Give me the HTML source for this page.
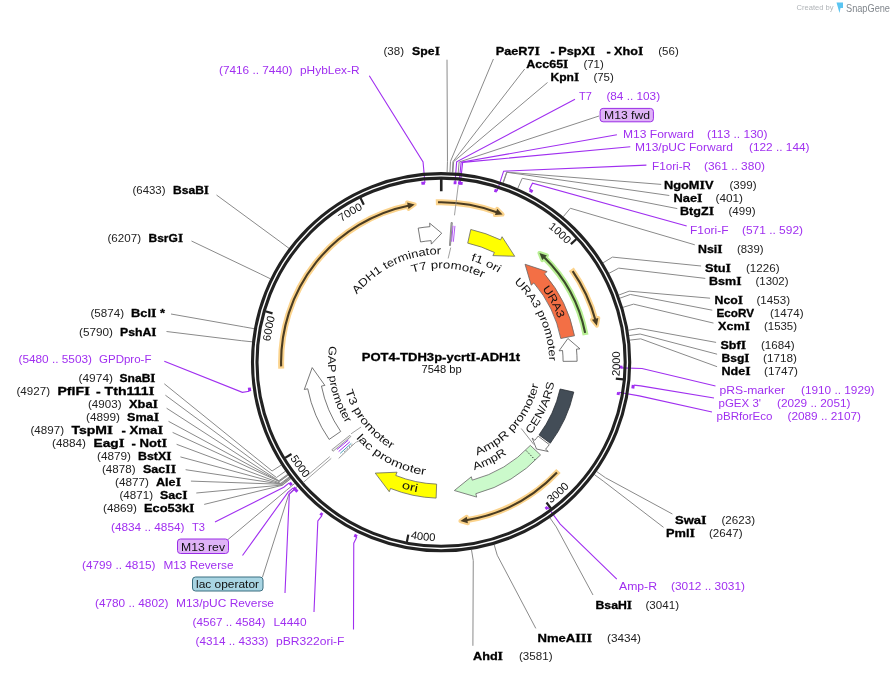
<!DOCTYPE html>
<html><head><meta charset="utf-8"><style>
html,body{margin:0;padding:0;background:#fff;}
svg{display:block;font-family:"Liberation Sans",sans-serif;will-change:transform;}
</style></head><body>
<svg width="894" height="674" viewBox="0 0 894 674">
<defs><path id="tp1" d="M548.09,227.53 A172,172 0 0 1 566.47,244.45"/><path id="tp2" d="M619.55,376.21 A179,179 0 0 0 619.76,351.23"/><path id="tp3" d="M550.85,503.61 A179,179 0 0 0 569.47,486.95"/><path id="tp4" d="M410.39,538.55 A179,179 0 0 0 435.24,541.1"/><path id="tp5" d="M290.01,458.18 A179,179 0 0 0 304.84,478.28"/><path id="tp6" d="M270.36,341.42 A172,172 0 0 1 275.17,316.9"/><path id="tp7" d="M341.55,221.94 A172,172 0 0 1 362.92,209"/><path id="tp8" d="M356.93,294.53 A108,108 0 0 1 441.1,254.2"/><path id="tp9" d="M412.21,272.75 A94,94 0 0 1 482.6,277.86"/><path id="tp10" d="M470.85,260.46 A106,106 0 0 1 498.21,272.9"/><path id="tp11" d="M513.92,282.45 A108,108 0 0 1 549.09,360.88"/><path id="tp12" d="M542.23,288.73 A125,125 0 0 1 558.18,318.42"/><path id="tp13" d="M530.6,434.42 A115,115 0 0 0 554.28,382.56"/><path id="tp14" d="M477.1,455.5 A100,100 0 0 0 538.54,384.7"/><path id="tp15" d="M474.33,470.2 A113,113 0 0 0 506.88,454.08"/><path id="tp16" d="M401.19,488.02 A132,132 0 0 0 417.27,492.03"/><path id="tp17" d="M356.12,438.18 A114,114 0 0 0 425.23,475.09"/><path id="tp18" d="M345.27,390.77 A100,100 0 0 0 391.4,448.98"/><path id="tp19" d="M329.28,345.89 A113,113 0 0 0 346.01,423.25"/></defs>
<path d="M369.3,75.8 L423.05,162.01 L424.94,182.93" fill="none" stroke="#a02ff0" stroke-width="1.1"/>
<path d="M447,59.7 L447.46,161.3 L447.11,172.3" fill="none" stroke="#8a8a8a" stroke-width="1.0"/>
<path d="M216.5,195 L280.2,241.74 L289,248.33" fill="none" stroke="#8a8a8a" stroke-width="1.0"/>
<path d="M191.5,241 L260.51,273.96 L270.39,278.79" fill="none" stroke="#8a8a8a" stroke-width="1.0"/>
<path d="M171,314 L243.25,326.75 L254.08,328.69" fill="none" stroke="#8a8a8a" stroke-width="1.0"/>
<path d="M166.5,331.5 L241.26,340.66 L252.19,341.84" fill="none" stroke="#8a8a8a" stroke-width="1.0"/>
<path d="M493.4,59 L450.47,161.42 L449.95,172.41" fill="none" stroke="#8a8a8a" stroke-width="1.0"/>
<path d="M524.7,69 L452.97,161.55 L452.32,172.53" fill="none" stroke="#8a8a8a" stroke-width="1.0"/>
<path d="M547.5,82.5 L453.64,161.59 L452.95,172.57" fill="none" stroke="#8a8a8a" stroke-width="1.0"/>
<path d="M575,99.3 L456.65,161.8 L455.02,182.74" fill="none" stroke="#a02ff0" stroke-width="1.1"/>
<path d="M599,116 L459.15,162.01 L458.16,172.97" fill="none" stroke="#8a8a8a" stroke-width="1.0"/>
<path d="M616.9,134.8 L461.14,162.2 L459.05,183.1" fill="none" stroke="#a02ff0" stroke-width="1.1"/>
<path d="M630.3,146.8 L462.64,162.36 L460.39,183.24" fill="none" stroke="#a02ff0" stroke-width="1.1"/>
<path d="M646.4,165.1 L503.63,171.17 L497.09,191.13" fill="none" stroke="#a02ff0" stroke-width="1.1"/>
<path d="M661.2,184.4 L506.64,172.19 L503.05,182.58" fill="none" stroke="#8a8a8a" stroke-width="1.0"/>
<path d="M669.3,195.5 L506.96,172.29 L503.35,182.69" fill="none" stroke="#8a8a8a" stroke-width="1.0"/>
<path d="M677.3,208.6 L522.21,178.29 L517.77,188.36" fill="none" stroke="#8a8a8a" stroke-width="1.0"/>
<path d="M686.7,226 L532.49,183.18 L529.3,189.41" fill="none" stroke="#a02ff0" stroke-width="1.1"/>
<path d="M694.8,244.8 L570.34,208.26 L563.27,216.69" fill="none" stroke="#8a8a8a" stroke-width="1.0"/>
<path d="M701.1,266 L612.43,257.1 L603.06,262.85" fill="none" stroke="#8a8a8a" stroke-width="1.0"/>
<path d="M705.3,278.4 L618.73,268.14 L609.01,273.29" fill="none" stroke="#8a8a8a" stroke-width="1.0"/>
<path d="M710.1,298.2 L629.12,291.15 L618.83,295.04" fill="none" stroke="#8a8a8a" stroke-width="1.0"/>
<path d="M712.3,310.2 L630.34,294.45 L619.98,298.16" fill="none" stroke="#8a8a8a" stroke-width="1.0"/>
<path d="M713.5,323.1 L633.53,304.14 L623,307.32" fill="none" stroke="#8a8a8a" stroke-width="1.0"/>
<path d="M716.1,342.4 L639.24,328.4 L628.39,330.25" fill="none" stroke="#8a8a8a" stroke-width="1.0"/>
<path d="M717.1,354.2 L640.11,334.02 L629.22,335.56" fill="none" stroke="#8a8a8a" stroke-width="1.0"/>
<path d="M717.1,366.7 L640.74,338.83 L629.81,340.11" fill="none" stroke="#8a8a8a" stroke-width="1.0"/>
<path d="M715.5,386 L642,368.56 L621.01,367.89" fill="none" stroke="#a02ff0" stroke-width="1.1"/>
<path d="M714,398 L640.7,385.9 L633.75,385.08" fill="none" stroke="#a02ff0" stroke-width="1.1"/>
<path d="M712,412 L639.27,395.84 L618.56,392.32" fill="none" stroke="#a02ff0" stroke-width="1.1"/>
<path d="M672.4,514 L605.54,477.79 L596.54,471.46" fill="none" stroke="#8a8a8a" stroke-width="1.0"/>
<path d="M663.5,527.3 L603.2,481.05 L594.33,474.54" fill="none" stroke="#8a8a8a" stroke-width="1.0"/>
<path d="M616.8,579.1 L560.22,524.1 L547.77,507.19" fill="none" stroke="#a02ff0" stroke-width="1.1"/>
<path d="M593,595 L556.27,526.93 L549.97,517.91" fill="none" stroke="#8a8a8a" stroke-width="1.0"/>
<path d="M535.8,628.4 L497.23,555.2 L494.16,544.64" fill="none" stroke="#8a8a8a" stroke-width="1.0"/>
<path d="M472.9,645.8 L473.25,560.61 L471.49,549.75" fill="none" stroke="#8a8a8a" stroke-width="1.0"/>
<path d="M164.3,361.2 L242.38,392.37 L249.3,391.32" fill="none" stroke="#a02ff0" stroke-width="1.1"/>
<path d="M164.3,383.8 L272.08,470.98 L281.33,465.03" fill="none" stroke="#8a8a8a" stroke-width="1.0"/>
<path d="M165.4,395.2 L276.47,477.51 L285.48,471.2" fill="none" stroke="#8a8a8a" stroke-width="1.0"/>
<path d="M166.6,408.2 L278.8,480.78 L287.68,474.29" fill="none" stroke="#8a8a8a" stroke-width="1.0"/>
<path d="M168.5,421.3 L279.2,481.32 L288.06,474.8" fill="none" stroke="#8a8a8a" stroke-width="1.0"/>
<path d="M172.6,432.4 L279.4,481.59 L288.25,475.05" fill="none" stroke="#8a8a8a" stroke-width="1.0"/>
<path d="M176.6,444.3 L280.7,483.33 L289.48,476.7" fill="none" stroke="#8a8a8a" stroke-width="1.0"/>
<path d="M180.4,456.9 L281.2,484 L289.95,477.33" fill="none" stroke="#8a8a8a" stroke-width="1.0"/>
<path d="M185.6,469.7 L281.31,484.13 L290.05,477.46" fill="none" stroke="#8a8a8a" stroke-width="1.0"/>
<path d="M190.9,481.1 L281.41,484.26 L290.15,477.58" fill="none" stroke="#8a8a8a" stroke-width="1.0"/>
<path d="M196.3,493 L282.02,485.06 L290.72,478.33" fill="none" stroke="#8a8a8a" stroke-width="1.0"/>
<path d="M204.2,504.4 L282.22,485.32 L290.92,478.58" fill="none" stroke="#8a8a8a" stroke-width="1.0"/>
<path d="M215,522 L283.77,487.3 L289.25,482.94" fill="none" stroke="#a02ff0" stroke-width="1.1"/>
<path d="M228,539.5 L286.3,490.42 L294.78,483.4" fill="none" stroke="#8a8a8a" stroke-width="1.0"/>
<path d="M242.5,555.5 L287.92,492.34 L293.25,487.81" fill="none" stroke="#a02ff0" stroke-width="1.1"/>
<path d="M262.5,577 L289.01,493.61 L297.33,486.42" fill="none" stroke="#8a8a8a" stroke-width="1.0"/>
<path d="M285,593 L289.33,493.99 L294.62,489.4" fill="none" stroke="#a02ff0" stroke-width="1.1"/>
<path d="M314,612 L317.84,520.97 L322.14,515.44" fill="none" stroke="#a02ff0" stroke-width="1.1"/>
<path d="M353.5,629.5 L353.76,543.23 L356.8,536.93" fill="none" stroke="#a02ff0" stroke-width="1.1"/>
<circle cx="441.1" cy="362.2" r="188.6" fill="none" stroke="#222" stroke-width="3.1"/>
<circle cx="441.1" cy="362.2" r="184.1" fill="none" stroke="#222" stroke-width="3.1"/>
<path d="M421.36,183.29 A180,180 0 0 1 424.94,182.93" fill="none" stroke="#a02ff0" stroke-width="3"/>
<path d="M453.68,182.64 A180,180 0 0 1 456.51,182.86" fill="none" stroke="#a02ff0" stroke-width="3"/>
<path d="M458.01,183 A180,180 0 0 1 460.54,183.25" fill="none" stroke="#a02ff0" stroke-width="3"/>
<path d="M459.35,183.13 A180,180 0 0 1 462.62,183.49" fill="none" stroke="#a02ff0" stroke-width="3"/>
<path d="M494.38,190.27 A180,180 0 0 1 497.09,191.13" fill="none" stroke="#a02ff0" stroke-width="3"/>
<path d="M529.65,190.15 A193.5,193.5 0 0 1 532.64,191.72" fill="none" stroke="#a02ff0" stroke-width="3"/>
<path d="M621.07,365.65 A180,180 0 0 1 620.99,368.49" fill="none" stroke="#a02ff0" stroke-width="3"/>
<path d="M633.25,385.02 A193.5,193.5 0 0 1 632.8,388.53" fill="none" stroke="#a02ff0" stroke-width="3"/>
<path d="M618.56,392.32 A180,180 0 0 1 618.09,394.98" fill="none" stroke="#a02ff0" stroke-width="3"/>
<path d="M547.77,507.19 A180,180 0 0 1 545.47,508.86" fill="none" stroke="#a02ff0" stroke-width="3"/>
<path d="M249.79,391.24 A193.5,193.5 0 0 1 249.27,387.58" fill="none" stroke="#a02ff0" stroke-width="3"/>
<path d="M291.67,485.13 A193.5,193.5 0 0 1 289.64,482.63" fill="none" stroke="#a02ff0" stroke-width="3"/>
<path d="M295.31,489.43 A193.5,193.5 0 0 1 293.63,487.48" fill="none" stroke="#a02ff0" stroke-width="3"/>
<path d="M297.34,491.72 A193.5,193.5 0 0 1 295,489.07" fill="none" stroke="#a02ff0" stroke-width="3"/>
<path d="M322.44,515.05 A193.5,193.5 0 0 1 320.29,513.36" fill="none" stroke="#a02ff0" stroke-width="3"/>
<path d="M357.02,536.48 A193.5,193.5 0 0 1 354.27,535.13" fill="none" stroke="#a02ff0" stroke-width="3"/>
<path d="M576.44,239.03 L570.89,244.07" fill="none" stroke="#222" stroke-width="2.2"/>
<path d="M623.29,379.39 L615.82,378.68" fill="none" stroke="#222" stroke-width="2.2"/>
<path d="M551.02,508.51 L546.51,502.52" fill="none" stroke="#222" stroke-width="2.2"/>
<path d="M406.88,541.97 L408.28,534.6" fill="none" stroke="#222" stroke-width="2.2"/>
<path d="M285.11,457.89 L291.5,453.97" fill="none" stroke="#222" stroke-width="2.2"/>
<path d="M265.34,311.24 L272.54,313.33" fill="none" stroke="#222" stroke-width="2.2"/>
<path d="M360.49,197.91 L363.79,204.65" fill="none" stroke="#222" stroke-width="2.2"/>
<path d="M441.25,177.2 L441.24,191.2" fill="none" stroke="#222" stroke-width="2.6"/>
<text fill="#111" font-size="11"><textPath href="#tp1" textLength="25" lengthAdjust="spacingAndGlyphs">1000</textPath></text>
<text fill="#111" font-size="11"><textPath href="#tp2" textLength="25" lengthAdjust="spacingAndGlyphs">2000</textPath></text>
<text fill="#111" font-size="11"><textPath href="#tp3" textLength="25" lengthAdjust="spacingAndGlyphs">3000</textPath></text>
<text fill="#111" font-size="11"><textPath href="#tp4" textLength="25" lengthAdjust="spacingAndGlyphs">4000</textPath></text>
<text fill="#111" font-size="11"><textPath href="#tp5" textLength="25" lengthAdjust="spacingAndGlyphs">5000</textPath></text>
<text fill="#111" font-size="11"><textPath href="#tp6" textLength="25" lengthAdjust="spacingAndGlyphs">6000</textPath></text>
<text fill="#111" font-size="11"><textPath href="#tp7" textLength="25" lengthAdjust="spacingAndGlyphs">7000</textPath></text>
<path d="M281.23,368.59 A160,160 0 0 1 409.18,205.42" fill="none" stroke="#fbd38c" stroke-width="6.0"/>
<path d="M407.13,202.47 L414.69,204.39 L408.5,208.93 Z" fill="#fbd38c" stroke="#fbd38c" stroke-width="4" stroke-linejoin="round"/>
<path d="M281.15,366.39 A160,160 0 0 1 409.18,205.42" fill="none" stroke="#4a3c22" stroke-width="2.1"/>
<path d="M407.13,202.47 L414.69,204.39 L408.5,208.93 Z" fill="#4a3c22"/>
<path d="M435.83,202.29 A160,160 0 0 1 497.38,212.42" fill="none" stroke="#fbd38c" stroke-width="6.0"/>
<path d="M497.2,208.84 L502.59,214.49 L494.93,215.04 Z" fill="#fbd38c" stroke="#fbd38c" stroke-width="4" stroke-linejoin="round"/>
<path d="M438.03,202.23 A160,160 0 0 1 497.38,212.42" fill="none" stroke="#4a3c22" stroke-width="2.1"/>
<path d="M497.2,208.84 L502.59,214.49 L494.93,215.04 Z" fill="#4a3c22"/>
<path d="M571.38,269.32 A160,160 0 0 1 595.5,320.23" fill="none" stroke="#fbd38c" stroke-width="6.0"/>
<path d="M598.3,317.99 L596.87,325.66 L591.95,319.78 Z" fill="#fbd38c" stroke="#fbd38c" stroke-width="4" stroke-linejoin="round"/>
<path d="M572.64,271.12 A160,160 0 0 1 595.5,320.23" fill="none" stroke="#4a3c22" stroke-width="2.1"/>
<path d="M598.3,317.99 L596.87,325.66 L591.95,319.78 Z" fill="#4a3c22"/>
<path d="M558.47,470.94 A160,160 0 0 1 465.95,520.26" fill="none" stroke="#fbd38c" stroke-width="6.0"/>
<path d="M467.87,523.29 L460.41,521.03 L466.79,516.78 Z" fill="#fbd38c" stroke="#fbd38c" stroke-width="4" stroke-linejoin="round"/>
<path d="M556.97,472.54 A160,160 0 0 1 465.95,520.26" fill="none" stroke="#4a3c22" stroke-width="2.1"/>
<path d="M467.87,523.29 L460.41,521.03 L466.79,516.78 Z" fill="#4a3c22"/>
<path d="M585.57,335.05 A147,147 0 0 0 543.64,256.86" fill="none" stroke="#b8ef94" stroke-width="6.0"/>
<path d="M546.87,255.42 L539.46,252.96 L542.23,260.11 Z" fill="#b8ef94" stroke="#b8ef94" stroke-width="4" stroke-linejoin="round"/>
<path d="M585.15,332.89 A147,147 0 0 0 543.64,256.86" fill="none" stroke="#3a4a2a" stroke-width="2.1"/>
<path d="M546.87,255.42 L539.46,252.96 L542.23,260.11 Z" fill="#3a4a2a"/>
<path d="M418.19,228.14 A136,136 0 0 1 429.92,226.66 L429.63,223.17 L441.71,233.2 L431.36,244.1 L431.07,240.61 A122,122 0 0 0 420.54,241.94 Z" fill="#fff" stroke="#555" stroke-width="0.8" stroke-linejoin="miter"/>
<path d="M470.77,229.48 A136,136 0 0 1 500.54,239.88 L502.07,236.73 L514.72,256.27 L492.89,255.62 L494.42,252.47 A122,122 0 0 0 467.71,243.14 Z" fill="#ffff00" stroke="#666" stroke-width="0.8" stroke-linejoin="miter"/>
<path d="M574.51,335.78 A136,136 0 0 0 544.49,273.84 L547.15,271.57 L525.05,264.25 L531.19,285.21 L533.85,282.94 A122,122 0 0 1 560.78,338.5 Z" fill="#f36f45" stroke="#666" stroke-width="0.8" stroke-linejoin="miter"/>
<path d="M577.1,361.25 A136,136 0 0 0 576.47,349.16 L579.96,348.83 L567.9,338.47 L559.05,350.84 L562.54,350.51 A122,122 0 0 1 563.1,361.35 Z" fill="#fff" stroke="#555" stroke-width="0.8" stroke-linejoin="miter"/>
<path d="M573.77,392.1 A136,136 0 0 1 550.28,443.29 L539.04,434.94 A122,122 0 0 0 560.12,389.02 Z" fill="#434d57" stroke="#2a2f35" stroke-width="0.8" stroke-linejoin="miter"/>
<path d="M540.56,454.95 A136,136 0 0 1 475.8,493.7 L476.69,497.08 L454.36,490.52 L471.34,476.78 L472.23,480.16 A122,122 0 0 0 530.33,445.4 Z" fill="#cbfacb" stroke="#666" stroke-width="0.8" stroke-linejoin="miter"/>
<path d="M549.28,444.61 A136,136 0 0 1 545.59,449.25 L548.28,451.5 L536.51,449.02 L532.14,438.05 L534.83,440.29 A122,122 0 0 0 538.15,436.13 Z" fill="#fff" stroke="#555" stroke-width="0.8" stroke-linejoin="miter"/>
<path d="M436.12,498.11 A136,136 0 0 1 390.56,488.46 L389.26,491.71 L375.24,473.12 L397.06,472.21 L395.76,475.46 A122,122 0 0 0 436.63,484.12 Z" fill="#ffff00" stroke="#666" stroke-width="0.8" stroke-linejoin="miter"/>
<path d="M329.15,439.43 A136,136 0 0 1 307.73,388.81 L304.3,389.49 L312.21,367.6 L324.89,385.39 L321.46,386.07 A122,122 0 0 0 340.68,431.48 Z" fill="#fff" stroke="#555" stroke-width="0.8" stroke-linejoin="miter"/>
<path d="M458.28,185.03 L454.47,215.31" stroke="#888" stroke-width="0.8" fill="none"/>
<path d="M450.72,247.6 L448.17,258.44" stroke="#888" stroke-width="0.8" fill="none"/>
<path d="M451.11,222.56 L449.47,245.5 L450.48,245.58 L452.33,222.65 Z" fill="#ccc" stroke="#666" stroke-width="0.7"/>
<path d="M451.65,241.66 L453.04,225.72" stroke="#a02ff0" stroke-width="0.8" fill="none"/>
<path d="M453.33,241.82 L454.94,225.9" stroke="#a02ff0" stroke-width="0.8" fill="none"/>
<path d="M331.84,449.73 L349.79,435.35 L350.82,436.62 L333.07,451.25 Z" fill="#eee" stroke="#777" stroke-width="0.7"/>
<path d="M348.41,439.98 L336.92,449.62" stroke="#a02ff0" stroke-width="1.0" fill="none"/>
<path d="M349.92,441.74 L338.62,451.6" stroke="#a02ff0" stroke-width="1.0" fill="none"/>
<path d="M351.32,443.32 L340.19,453.38" stroke="#4aa0b8" stroke-width="1.0" fill="none"/>
<path d="M352.32,444.41 L342.78,453.25" stroke="#333" stroke-width="0.9" fill="none" stroke-dasharray="1.2,2"/>
<path d="M355.81,442.29 L338.68,458.38" stroke="#777" stroke-width="0.7" fill="none"/>
<path d="M303.2,482.5 L331.25,458.37" stroke="#888" stroke-width="0.8" fill="none"/>
<path d="M306.87,476.04 L329.75,456.63" stroke="#888" stroke-width="0.8" fill="none"/>
<path d="M351.1,433.79 L361.05,427.02" stroke="#888" stroke-width="0.8" fill="none"/>
<path d="M356.24,442.17 L362.64,439.3" stroke="#888" stroke-width="0.8" fill="none"/>
<path d="M526.04,450.47 L535.06,459.83" stroke="#222" stroke-width="0.9" fill="none" stroke-dasharray="1.5,1.5"/>
<path d="M521.23,428.49 L533.83,444.53" fill="none" stroke="#777" stroke-width="0.8"/>
<text fill="#111" font-size="11"><textPath href="#tp8" textLength="96.51" lengthAdjust="spacingAndGlyphs">ADH1 terminator</textPath></text>
<text fill="#111" font-size="11"><textPath href="#tp9" textLength="72.35" lengthAdjust="spacingAndGlyphs">T7 promoter</textPath></text>
<text fill="#111" font-size="11"><textPath href="#tp10" textLength="30.16" lengthAdjust="spacingAndGlyphs">f1 ori</textPath></text>
<text fill="#111" font-size="11"><textPath href="#tp11" textLength="88.4" lengthAdjust="spacingAndGlyphs">URA3 promoter</textPath></text>
<text fill="#111" font-size="11"><textPath href="#tp12" textLength="33.82" lengthAdjust="spacingAndGlyphs">URA3</textPath></text>
<text fill="#111" font-size="11"><textPath href="#tp13" textLength="57.6" lengthAdjust="spacingAndGlyphs">CEN/ARS</textPath></text>
<text fill="#111" font-size="11"><textPath href="#tp14" textLength="97.56" lengthAdjust="spacingAndGlyphs">AmpR promoter</textPath></text>
<text fill="#111" font-size="11"><textPath href="#tp15" textLength="36.49" lengthAdjust="spacingAndGlyphs">AmpR</textPath></text>
<text fill="#111" font-size="11"><textPath href="#tp16" textLength="16.59" lengthAdjust="spacingAndGlyphs">ori</textPath></text>
<text fill="#111" font-size="11"><textPath href="#tp17" textLength="79.98" lengthAdjust="spacingAndGlyphs">lac promoter</textPath></text>
<text fill="#111" font-size="11"><textPath href="#tp18" textLength="76.1" lengthAdjust="spacingAndGlyphs">T3 promoter</textPath></text>
<text fill="#111" font-size="11"><textPath href="#tp19" textLength="80.86" lengthAdjust="spacingAndGlyphs">GAP promoter</textPath></text>
<text x="219" y="74" fill="#a02ff0" font-size="11" textLength="73.5" lengthAdjust="spacingAndGlyphs">(7416 .. 7440)</text>
<text x="300" y="74" fill="#a02ff0" font-size="11" textLength="59.5" lengthAdjust="spacingAndGlyphs">pHybLex-R</text>
<text x="383.5" y="55" fill="#222" font-size="11" textLength="20.6" lengthAdjust="spacingAndGlyphs">(38)</text>
<text x="412.1" y="55" fill="#000" font-size="11" font-weight="bold" stroke="#000" stroke-width="0.3" textLength="27.8" lengthAdjust="spacingAndGlyphs">Spe<tspan font-family="Liberation Serif" font-size="12">I</tspan></text>
<text x="132.5" y="194" fill="#222" font-size="11" textLength="33" lengthAdjust="spacingAndGlyphs">(6433)</text>
<text x="173" y="194" fill="#000" font-size="11" font-weight="bold" stroke="#000" stroke-width="0.3" textLength="36" lengthAdjust="spacingAndGlyphs">BsaB<tspan font-family="Liberation Serif" font-size="12">I</tspan></text>
<text x="107.5" y="242" fill="#222" font-size="11" textLength="33.5" lengthAdjust="spacingAndGlyphs">(6207)</text>
<text x="148.5" y="242" fill="#000" font-size="11" font-weight="bold" stroke="#000" stroke-width="0.3" textLength="34.5" lengthAdjust="spacingAndGlyphs">BsrG<tspan font-family="Liberation Serif" font-size="12">I</tspan></text>
<text x="90.5" y="317" fill="#222" font-size="11" textLength="33.5" lengthAdjust="spacingAndGlyphs">(5874)</text>
<text x="131" y="317" fill="#000" font-size="11" font-weight="bold" stroke="#000" stroke-width="0.3" textLength="34" lengthAdjust="spacingAndGlyphs">Bcl<tspan font-family="Liberation Serif" font-size="12">I</tspan> *</text>
<text x="79" y="335.5" fill="#222" font-size="11" textLength="34" lengthAdjust="spacingAndGlyphs">(5790)</text>
<text x="120" y="335.5" fill="#000" font-size="11" font-weight="bold" stroke="#000" stroke-width="0.3" textLength="36.5" lengthAdjust="spacingAndGlyphs">PshA<tspan font-family="Liberation Serif" font-size="12">I</tspan></text>
<text x="495.7" y="55" fill="#000" font-size="11" font-weight="bold" stroke="#000" stroke-width="0.3" textLength="44.3" lengthAdjust="spacingAndGlyphs">PaeR7<tspan font-family="Liberation Serif" font-size="12">I</tspan></text>
<text x="550.5" y="55" fill="#000" font-size="11" font-weight="bold" stroke="#000" stroke-width="0.3" textLength="44.7" lengthAdjust="spacingAndGlyphs">- PspX<tspan font-family="Liberation Serif" font-size="12">I</tspan></text>
<text x="606.4" y="55" fill="#000" font-size="11" font-weight="bold" stroke="#000" stroke-width="0.3" textLength="36.9" lengthAdjust="spacingAndGlyphs">- Xho<tspan font-family="Liberation Serif" font-size="12">I</tspan></text>
<text x="658.3" y="55" fill="#222" font-size="11" textLength="20.4" lengthAdjust="spacingAndGlyphs">(56)</text>
<text x="526.3" y="68" fill="#000" font-size="11" font-weight="bold" stroke="#000" stroke-width="0.3" textLength="42.1" lengthAdjust="spacingAndGlyphs">Acc65<tspan font-family="Liberation Serif" font-size="12">I</tspan></text>
<text x="583.4" y="68" fill="#222" font-size="11" textLength="20.3" lengthAdjust="spacingAndGlyphs">(71)</text>
<text x="550.5" y="81" fill="#000" font-size="11" font-weight="bold" stroke="#000" stroke-width="0.3" textLength="28.6" lengthAdjust="spacingAndGlyphs">Kpn<tspan font-family="Liberation Serif" font-size="12">I</tspan></text>
<text x="593.4" y="81" fill="#222" font-size="11" textLength="20.4" lengthAdjust="spacingAndGlyphs">(75)</text>
<text x="579.1" y="100" fill="#a02ff0" font-size="11" textLength="12.8" lengthAdjust="spacingAndGlyphs">T7</text>
<text x="606.4" y="100" fill="#a02ff0" font-size="11" textLength="53.7" lengthAdjust="spacingAndGlyphs">(84 .. 103)</text>
<text x="623" y="138" fill="#a02ff0" font-size="11" textLength="71" lengthAdjust="spacingAndGlyphs">M13 Forward</text>
<text x="707" y="138" fill="#a02ff0" font-size="11" textLength="60.5" lengthAdjust="spacingAndGlyphs">(113 .. 130)</text>
<text x="635" y="151" fill="#a02ff0" font-size="11" textLength="98" lengthAdjust="spacingAndGlyphs">M13/pUC Forward</text>
<text x="749" y="151" fill="#a02ff0" font-size="11" textLength="60.5" lengthAdjust="spacingAndGlyphs">(122 .. 144)</text>
<text x="652" y="170" fill="#a02ff0" font-size="11" textLength="39" lengthAdjust="spacingAndGlyphs">F1ori-R</text>
<text x="704" y="170" fill="#a02ff0" font-size="11" textLength="61" lengthAdjust="spacingAndGlyphs">(361 .. 380)</text>
<text x="664" y="189" fill="#000" font-size="11" font-weight="bold" stroke="#000" stroke-width="0.3" textLength="49.5" lengthAdjust="spacingAndGlyphs">NgoM<tspan font-family="Liberation Serif" font-size="12">I</tspan>V</text>
<text x="729.5" y="189" fill="#222" font-size="11" textLength="27" lengthAdjust="spacingAndGlyphs">(399)</text>
<text x="673.5" y="202" fill="#000" font-size="11" font-weight="bold" stroke="#000" stroke-width="0.3" textLength="29" lengthAdjust="spacingAndGlyphs">Nae<tspan font-family="Liberation Serif" font-size="12">I</tspan></text>
<text x="715.5" y="202" fill="#222" font-size="11" textLength="27.5" lengthAdjust="spacingAndGlyphs">(401)</text>
<text x="680" y="215" fill="#000" font-size="11" font-weight="bold" stroke="#000" stroke-width="0.3" textLength="34" lengthAdjust="spacingAndGlyphs">BtgZ<tspan font-family="Liberation Serif" font-size="12">I</tspan></text>
<text x="728.5" y="215" fill="#222" font-size="11" textLength="27" lengthAdjust="spacingAndGlyphs">(499)</text>
<text x="690" y="234" fill="#a02ff0" font-size="11" textLength="38.5" lengthAdjust="spacingAndGlyphs">F1ori-F</text>
<text x="742" y="234" fill="#a02ff0" font-size="11" textLength="61" lengthAdjust="spacingAndGlyphs">(571 .. 592)</text>
<text x="698" y="252.5" fill="#000" font-size="11" font-weight="bold" stroke="#000" stroke-width="0.3" textLength="24.5" lengthAdjust="spacingAndGlyphs">Nsi<tspan font-family="Liberation Serif" font-size="12">I</tspan></text>
<text x="737" y="252.5" fill="#222" font-size="11" textLength="26.5" lengthAdjust="spacingAndGlyphs">(839)</text>
<text x="705" y="272" fill="#000" font-size="11" font-weight="bold" stroke="#000" stroke-width="0.3" textLength="26" lengthAdjust="spacingAndGlyphs">Stu<tspan font-family="Liberation Serif" font-size="12">I</tspan></text>
<text x="746" y="272" fill="#222" font-size="11" textLength="33.5" lengthAdjust="spacingAndGlyphs">(1226)</text>
<text x="709" y="285" fill="#000" font-size="11" font-weight="bold" stroke="#000" stroke-width="0.3" textLength="32.5" lengthAdjust="spacingAndGlyphs">Bsm<tspan font-family="Liberation Serif" font-size="12">I</tspan></text>
<text x="755.5" y="285" fill="#222" font-size="11" textLength="33" lengthAdjust="spacingAndGlyphs">(1302)</text>
<text x="714.5" y="304" fill="#000" font-size="11" font-weight="bold" stroke="#000" stroke-width="0.3" textLength="28.5" lengthAdjust="spacingAndGlyphs">Nco<tspan font-family="Liberation Serif" font-size="12">I</tspan></text>
<text x="756.5" y="304" fill="#222" font-size="11" textLength="33.5" lengthAdjust="spacingAndGlyphs">(1453)</text>
<text x="716.5" y="317" fill="#000" font-size="11" font-weight="bold" stroke="#000" stroke-width="0.3" textLength="37.5" lengthAdjust="spacingAndGlyphs">EcoRV</text>
<text x="770" y="317" fill="#222" font-size="11" textLength="33.5" lengthAdjust="spacingAndGlyphs">(1474)</text>
<text x="718" y="330" fill="#000" font-size="11" font-weight="bold" stroke="#000" stroke-width="0.3" textLength="32" lengthAdjust="spacingAndGlyphs">Xcm<tspan font-family="Liberation Serif" font-size="12">I</tspan></text>
<text x="764" y="330" fill="#222" font-size="11" textLength="33" lengthAdjust="spacingAndGlyphs">(1535)</text>
<text x="720.5" y="349" fill="#000" font-size="11" font-weight="bold" stroke="#000" stroke-width="0.3" textLength="25.5" lengthAdjust="spacingAndGlyphs">Sbf<tspan font-family="Liberation Serif" font-size="12">I</tspan></text>
<text x="761" y="349" fill="#222" font-size="11" textLength="33.5" lengthAdjust="spacingAndGlyphs">(1684)</text>
<text x="721.5" y="362" fill="#000" font-size="11" font-weight="bold" stroke="#000" stroke-width="0.3" textLength="28" lengthAdjust="spacingAndGlyphs">Bsg<tspan font-family="Liberation Serif" font-size="12">I</tspan></text>
<text x="763" y="362" fill="#222" font-size="11" textLength="34" lengthAdjust="spacingAndGlyphs">(1718)</text>
<text x="721.5" y="375" fill="#000" font-size="11" font-weight="bold" stroke="#000" stroke-width="0.3" textLength="29" lengthAdjust="spacingAndGlyphs">Nde<tspan font-family="Liberation Serif" font-size="12">I</tspan></text>
<text x="764" y="375" fill="#222" font-size="11" textLength="34" lengthAdjust="spacingAndGlyphs">(1747)</text>
<text x="719.5" y="394" fill="#a02ff0" font-size="11" textLength="65.5" lengthAdjust="spacingAndGlyphs">pRS-marker</text>
<text x="801" y="394" fill="#a02ff0" font-size="11" textLength="73.5" lengthAdjust="spacingAndGlyphs">(1910 .. 1929)</text>
<text x="718.5" y="406.5" fill="#a02ff0" font-size="11" textLength="42.5" lengthAdjust="spacingAndGlyphs">pGEX 3'</text>
<text x="777" y="406.5" fill="#a02ff0" font-size="11" textLength="73.5" lengthAdjust="spacingAndGlyphs">(2029 .. 2051)</text>
<text x="716.5" y="420" fill="#a02ff0" font-size="11" textLength="56" lengthAdjust="spacingAndGlyphs">pBRforEco</text>
<text x="787.5" y="420" fill="#a02ff0" font-size="11" textLength="73.5" lengthAdjust="spacingAndGlyphs">(2089 .. 2107)</text>
<text x="675" y="524" fill="#000" font-size="11" font-weight="bold" stroke="#000" stroke-width="0.3" textLength="31.5" lengthAdjust="spacingAndGlyphs">Swa<tspan font-family="Liberation Serif" font-size="12">I</tspan></text>
<text x="721.5" y="524" fill="#222" font-size="11" textLength="33.5" lengthAdjust="spacingAndGlyphs">(2623)</text>
<text x="666" y="537" fill="#000" font-size="11" font-weight="bold" stroke="#000" stroke-width="0.3" textLength="29" lengthAdjust="spacingAndGlyphs">Pml<tspan font-family="Liberation Serif" font-size="12">I</tspan></text>
<text x="709" y="537" fill="#222" font-size="11" textLength="33.5" lengthAdjust="spacingAndGlyphs">(2647)</text>
<text x="619" y="590" fill="#a02ff0" font-size="11" textLength="38" lengthAdjust="spacingAndGlyphs">Amp-R</text>
<text x="671" y="590" fill="#a02ff0" font-size="11" textLength="74" lengthAdjust="spacingAndGlyphs">(3012 .. 3031)</text>
<text x="595.5" y="609" fill="#000" font-size="11" font-weight="bold" stroke="#000" stroke-width="0.3" textLength="36.5" lengthAdjust="spacingAndGlyphs">BsaH<tspan font-family="Liberation Serif" font-size="12">I</tspan></text>
<text x="645.5" y="609" fill="#222" font-size="11" textLength="33.5" lengthAdjust="spacingAndGlyphs">(3041)</text>
<text x="537.5" y="642" fill="#000" font-size="11" font-weight="bold" stroke="#000" stroke-width="0.3" textLength="54.5" lengthAdjust="spacingAndGlyphs">NmeA<tspan font-family="Liberation Serif" font-size="12">I</tspan><tspan font-family="Liberation Serif" font-size="12">I</tspan><tspan font-family="Liberation Serif" font-size="12">I</tspan></text>
<text x="607" y="642" fill="#222" font-size="11" textLength="34" lengthAdjust="spacingAndGlyphs">(3434)</text>
<text x="473" y="660" fill="#000" font-size="11" font-weight="bold" stroke="#000" stroke-width="0.3" textLength="30" lengthAdjust="spacingAndGlyphs">Ahd<tspan font-family="Liberation Serif" font-size="12">I</tspan></text>
<text x="519" y="660" fill="#222" font-size="11" textLength="33.5" lengthAdjust="spacingAndGlyphs">(3581)</text>
<text x="18.5" y="363" fill="#a02ff0" font-size="11" textLength="73.5" lengthAdjust="spacingAndGlyphs">(5480 .. 5503)</text>
<text x="99" y="363" fill="#a02ff0" font-size="11" textLength="52.5" lengthAdjust="spacingAndGlyphs">GPDpro-F</text>
<text x="78.5" y="382" fill="#222" font-size="11" textLength="34.5" lengthAdjust="spacingAndGlyphs">(4974)</text>
<text x="119.5" y="382" fill="#000" font-size="11" font-weight="bold" stroke="#000" stroke-width="0.3" textLength="36" lengthAdjust="spacingAndGlyphs">SnaB<tspan font-family="Liberation Serif" font-size="12">I</tspan></text>
<text x="16.5" y="395" fill="#222" font-size="11" textLength="33.5" lengthAdjust="spacingAndGlyphs">(4927)</text>
<text x="57.5" y="395" fill="#000" font-size="11" font-weight="bold" stroke="#000" stroke-width="0.3" textLength="32.5" lengthAdjust="spacingAndGlyphs">PflF<tspan font-family="Liberation Serif" font-size="12">I</tspan></text>
<text x="96" y="395" fill="#000" font-size="11" font-weight="bold" stroke="#000" stroke-width="0.3" textLength="58.5" lengthAdjust="spacingAndGlyphs">- Tth111<tspan font-family="Liberation Serif" font-size="12">I</tspan></text>
<text x="88" y="408" fill="#222" font-size="11" textLength="33.5" lengthAdjust="spacingAndGlyphs">(4903)</text>
<text x="129" y="408" fill="#000" font-size="11" font-weight="bold" stroke="#000" stroke-width="0.3" textLength="29" lengthAdjust="spacingAndGlyphs">Xba<tspan font-family="Liberation Serif" font-size="12">I</tspan></text>
<text x="86" y="421" fill="#222" font-size="11" textLength="34" lengthAdjust="spacingAndGlyphs">(4899)</text>
<text x="127" y="421" fill="#000" font-size="11" font-weight="bold" stroke="#000" stroke-width="0.3" textLength="32" lengthAdjust="spacingAndGlyphs">Sma<tspan font-family="Liberation Serif" font-size="12">I</tspan></text>
<text x="30.5" y="434" fill="#222" font-size="11" textLength="33.5" lengthAdjust="spacingAndGlyphs">(4897)</text>
<text x="71.5" y="434" fill="#000" font-size="11" font-weight="bold" stroke="#000" stroke-width="0.3" textLength="41.5" lengthAdjust="spacingAndGlyphs">TspM<tspan font-family="Liberation Serif" font-size="12">I</tspan></text>
<text x="121.5" y="434" fill="#000" font-size="11" font-weight="bold" stroke="#000" stroke-width="0.3" textLength="41.5" lengthAdjust="spacingAndGlyphs">- Xma<tspan font-family="Liberation Serif" font-size="12">I</tspan></text>
<text x="52" y="447" fill="#222" font-size="11" textLength="34" lengthAdjust="spacingAndGlyphs">(4884)</text>
<text x="93.5" y="447" fill="#000" font-size="11" font-weight="bold" stroke="#000" stroke-width="0.3" textLength="31" lengthAdjust="spacingAndGlyphs">Eag<tspan font-family="Liberation Serif" font-size="12">I</tspan></text>
<text x="131.5" y="447" fill="#000" font-size="11" font-weight="bold" stroke="#000" stroke-width="0.3" textLength="35.5" lengthAdjust="spacingAndGlyphs">- Not<tspan font-family="Liberation Serif" font-size="12">I</tspan></text>
<text x="97" y="460" fill="#222" font-size="11" textLength="34" lengthAdjust="spacingAndGlyphs">(4879)</text>
<text x="138" y="460" fill="#000" font-size="11" font-weight="bold" stroke="#000" stroke-width="0.3" textLength="33.5" lengthAdjust="spacingAndGlyphs">BstX<tspan font-family="Liberation Serif" font-size="12">I</tspan></text>
<text x="102" y="473" fill="#222" font-size="11" textLength="33.5" lengthAdjust="spacingAndGlyphs">(4878)</text>
<text x="143" y="473" fill="#000" font-size="11" font-weight="bold" stroke="#000" stroke-width="0.3" textLength="33" lengthAdjust="spacingAndGlyphs">Sac<tspan font-family="Liberation Serif" font-size="12">I</tspan><tspan font-family="Liberation Serif" font-size="12">I</tspan></text>
<text x="115" y="486" fill="#222" font-size="11" textLength="34" lengthAdjust="spacingAndGlyphs">(4877)</text>
<text x="156" y="486" fill="#000" font-size="11" font-weight="bold" stroke="#000" stroke-width="0.3" textLength="25" lengthAdjust="spacingAndGlyphs">Ale<tspan font-family="Liberation Serif" font-size="12">I</tspan></text>
<text x="119.5" y="499" fill="#222" font-size="11" textLength="33.5" lengthAdjust="spacingAndGlyphs">(4871)</text>
<text x="160" y="499" fill="#000" font-size="11" font-weight="bold" stroke="#000" stroke-width="0.3" textLength="27.5" lengthAdjust="spacingAndGlyphs">Sac<tspan font-family="Liberation Serif" font-size="12">I</tspan></text>
<text x="103" y="512" fill="#222" font-size="11" textLength="34" lengthAdjust="spacingAndGlyphs">(4869)</text>
<text x="144" y="512" fill="#000" font-size="11" font-weight="bold" stroke="#000" stroke-width="0.3" textLength="50.5" lengthAdjust="spacingAndGlyphs">Eco53k<tspan font-family="Liberation Serif" font-size="12">I</tspan></text>
<text x="111" y="531" fill="#a02ff0" font-size="11" textLength="73.5" lengthAdjust="spacingAndGlyphs">(4834 .. 4854)</text>
<text x="192" y="531" fill="#a02ff0" font-size="11" textLength="13" lengthAdjust="spacingAndGlyphs">T3</text>
<text x="82" y="569" fill="#a02ff0" font-size="11" textLength="73.5" lengthAdjust="spacingAndGlyphs">(4799 .. 4815)</text>
<text x="163.5" y="569" fill="#a02ff0" font-size="11" textLength="70" lengthAdjust="spacingAndGlyphs">M13 Reverse</text>
<text x="95" y="607" fill="#a02ff0" font-size="11" textLength="73.5" lengthAdjust="spacingAndGlyphs">(4780 .. 4802)</text>
<text x="176" y="607" fill="#a02ff0" font-size="11" textLength="98" lengthAdjust="spacingAndGlyphs">M13/pUC Reverse</text>
<text x="192.5" y="626" fill="#a02ff0" font-size="11" textLength="73" lengthAdjust="spacingAndGlyphs">(4567 .. 4584)</text>
<text x="273.5" y="626" fill="#a02ff0" font-size="11" textLength="33" lengthAdjust="spacingAndGlyphs">L4440</text>
<text x="195.5" y="645" fill="#a02ff0" font-size="11" textLength="73" lengthAdjust="spacingAndGlyphs">(4314 .. 4333)</text>
<text x="276" y="645" fill="#a02ff0" font-size="11" textLength="68.5" lengthAdjust="spacingAndGlyphs">pBR322ori-F</text>
<rect x="600.1" y="108.4" width="53.3" height="13.4" rx="3" fill="#dfb3f7" stroke="#9a2de6" stroke-width="1"/>
<text x="604" y="119" fill="#111" font-size="11" textLength="46" lengthAdjust="spacingAndGlyphs">M13 fwd</text>
<rect x="177.5" y="539" width="51" height="14.5" rx="3" fill="#dfb3f7" stroke="#9a2de6" stroke-width="1"/>
<text x="181" y="550.5" fill="#111" font-size="11" textLength="44" lengthAdjust="spacingAndGlyphs">M13 rev</text>
<rect x="192.5" y="577" width="70.5" height="14" rx="3" fill="#a9d5e3" stroke="#3b6f80" stroke-width="1"/>
<text x="196" y="588" fill="#111" font-size="11" textLength="63" lengthAdjust="spacingAndGlyphs">lac operator</text>
<text x="361.7" y="361" fill="#000" font-size="11" font-weight="bold" stroke="#000" stroke-width="0.3" textLength="158.4" lengthAdjust="spacingAndGlyphs">POT4-TDH3p-ycrt<tspan font-family="Liberation Serif" font-size="12">I</tspan>-ADH1t</text>
<text x="421.5" y="372.6" fill="#111" font-size="11" textLength="40.2" lengthAdjust="spacingAndGlyphs">7548 bp</text>
<text x="796.6" y="9.8" fill="#b0b4b8" font-size="8" textLength="37" lengthAdjust="spacingAndGlyphs">Created by</text>
<path d="M836.5,2.5 L843,2.5 L843,8 L840.5,8 L839.5,13 Z" fill="#5bc5f2"/>
<text x="846" y="11.5" fill="#80868c" font-size="10.5" textLength="44" lengthAdjust="spacingAndGlyphs">SnapGene</text>
</svg></body></html>
